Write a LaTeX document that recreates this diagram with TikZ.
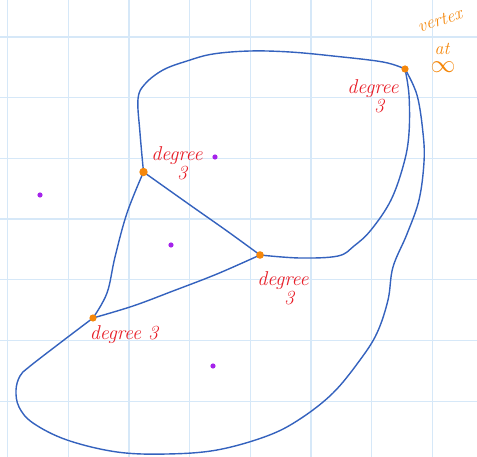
\documentclass[tikz,border=0pt]{standalone}
\usepackage{amsmath, amssymb}
\usepackage{tikz}
\usetikzlibrary{calc}

\definecolor{gridblue}{RGB}{214,232,248}
\definecolor{edgeblue}{RGB}{52,98,190}
\definecolor{vertorange}{RGB}{245,135,10}
\definecolor{labelred}{RGB}{232,30,40}
\definecolor{dotpurple}{RGB}{165,35,235}

\tikzset{
  edge/.style={edgeblue,line width=1.4pt,line cap=round,line join=round},
  degreelabel/.style={labelred,align=center,font=\fontsize{20}{22}\selectfont\itshape,inner sep=0pt},
  inflabel/.style={vertorange,font=\fontsize{18}{20}\selectfont\itshape,inner sep=0pt}
}

\begin{document}
\begin{tikzpicture}[x=1pt,y=-1pt]
\useasboundingbox (0,0) rectangle (477,457);
\fill[white] (0,0) rectangle (477,457);

% squared paper
\foreach \gx in {0,...,7}
  \draw[gridblue,line width=1.2pt] ({7.5+60.7*\gx},0) -- ({7.5+60.7*\gx},457);
\foreach \gy in {0,...,6}
  \draw[gridblue,line width=1.2pt] (0,{37+60.7*\gy}) -- (477,{37+60.7*\gy});

% vertices
\coordinate (inf) at (405,69);
\coordinate (top) at (143.5,172);
\coordinate (mid) at (260,255);
\coordinate (low) at (93,318);

% edges
\draw[edge] plot[smooth,tension=0.6] coordinates {(top) (190,205) (227,231) (mid)};
\draw[edge] plot[smooth,tension=0.6] coordinates {(top) (127,213) (115,257) (107,293) (low)};
\draw[edge] plot[smooth,tension=0.6] coordinates {(low) (133,306) (173,291) (217,274) (mid)};
\draw[edge] plot[smooth,tension=0.6] coordinates {(top) (140,133) (138,99) (145,84) (163,70) (187,61) (213,54) (250,51) (290,52) (333,56) (383,62) (inf)};
\draw[edge] plot[smooth,tension=0.6] coordinates {(inf) (409,95) (409,133) (404,163) (391,200) (371,230) (354,246) (338,256) (300,258) (mid)};
\draw[edge] plot[smooth,tension=0.6] coordinates {(inf) (417,95) (423,133) (424,162) (419,200) (407,234) (393,267) (388,300) (377,333) (360,360) (333,393) (300,419) (267,436) (217,450) (167,454) (117,452) (67,440) (33,423) (19,407) (16,390) (20,376) (29,367) (60,343) (low)};

% vertex dots
\foreach \v/\r in {inf/3.6, top/4.2, mid/3.8, low/3.6}
  \fill[vertorange] (\v) circle (\r);

% points in the faces
\foreach \p in {(215,157), (40,195), (171,245), (213,366)}
  \fill[dotpurple] \p circle (2.6);

% labels
\node[degreelabel] (lbltop) at (177,163) {degree\\[-3pt]\hspace*{10pt}3};
\node[degreelabel] (lblinf) at (373,96) {degree\\[-3pt]\hspace*{12pt}3};
\node[degreelabel] (lblmid) at (283,288) {degree\\[-3pt]\hspace*{12pt}3};
\node[degreelabel] (lbllow) at (124,335) {degree 3};
\node[inflabel,rotate=18] (lblvertex) at (440,20) {vertex};
\node[inflabel] (lblat) at (442,49) {at};
\node[vertorange,inner sep=0pt,font=\fontsize{26}{26}\selectfont] (lblinfty) at (443,67) {$\infty$};
\end{tikzpicture}
\end{document}
